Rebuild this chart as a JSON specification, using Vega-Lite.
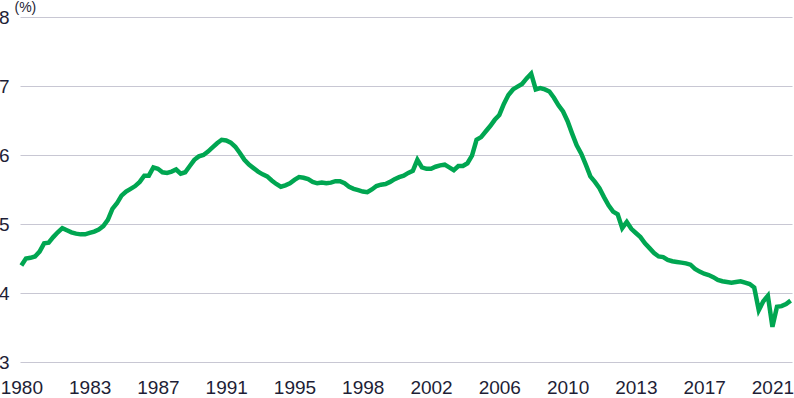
{
  "$schema": "https://vega.github.io/schema/vega-lite/v6.json",
  "width": 772,
  "height": 345,
  "autosize": {"type": "none"},
  "padding": {"left": 20, "top": 17, "right": 2, "bottom": 36},
  "config": {"view": {"stroke": null}, "font": "Liberation Sans"},
  "data": {"values": [
    {"quarter":"1980Q1","value":4.40},{"quarter":"1980Q2","value":4.50},{"quarter":"1980Q3","value":4.51},{"quarter":"1980Q4","value":4.53},
    {"quarter":"1981Q1","value":4.60},{"quarter":"1981Q2","value":4.72},{"quarter":"1981Q3","value":4.73},{"quarter":"1981Q4","value":4.81},
    {"quarter":"1982Q1","value":4.88},{"quarter":"1982Q2","value":4.94},{"quarter":"1982Q3","value":4.91},{"quarter":"1982Q4","value":4.88},
    {"quarter":"1983Q1","value":4.86},{"quarter":"1983Q2","value":4.85},{"quarter":"1983Q3","value":4.85},{"quarter":"1983Q4","value":4.87},
    {"quarter":"1984Q1","value":4.89},{"quarter":"1984Q2","value":4.92},{"quarter":"1984Q3","value":4.97},{"quarter":"1984Q4","value":5.06},
    {"quarter":"1985Q1","value":5.22},{"quarter":"1985Q2","value":5.30},{"quarter":"1985Q3","value":5.41},{"quarter":"1985Q4","value":5.47},
    {"quarter":"1986Q1","value":5.51},{"quarter":"1986Q2","value":5.55},{"quarter":"1986Q3","value":5.61},{"quarter":"1986Q4","value":5.70},
    {"quarter":"1987Q1","value":5.70},{"quarter":"1987Q2","value":5.82},{"quarter":"1987Q3","value":5.80},{"quarter":"1987Q4","value":5.75},
    {"quarter":"1988Q1","value":5.74},{"quarter":"1988Q2","value":5.76},{"quarter":"1988Q3","value":5.79},{"quarter":"1988Q4","value":5.73},
    {"quarter":"1989Q1","value":5.75},{"quarter":"1989Q2","value":5.84},{"quarter":"1989Q3","value":5.93},{"quarter":"1989Q4","value":5.98},
    {"quarter":"1990Q1","value":6.00},{"quarter":"1990Q2","value":6.05},{"quarter":"1990Q3","value":6.11},{"quarter":"1990Q4","value":6.17},
    {"quarter":"1991Q1","value":6.22},{"quarter":"1991Q2","value":6.21},{"quarter":"1991Q3","value":6.18},{"quarter":"1991Q4","value":6.12},
    {"quarter":"1992Q1","value":6.03},{"quarter":"1992Q2","value":5.93},{"quarter":"1992Q3","value":5.86},{"quarter":"1992Q4","value":5.81},
    {"quarter":"1993Q1","value":5.76},{"quarter":"1993Q2","value":5.72},{"quarter":"1993Q3","value":5.69},{"quarter":"1993Q4","value":5.63},
    {"quarter":"1994Q1","value":5.58},{"quarter":"1994Q2","value":5.54},{"quarter":"1994Q3","value":5.56},{"quarter":"1994Q4","value":5.59},
    {"quarter":"1995Q1","value":5.64},{"quarter":"1995Q2","value":5.68},{"quarter":"1995Q3","value":5.67},{"quarter":"1995Q4","value":5.65},
    {"quarter":"1996Q1","value":5.61},{"quarter":"1996Q2","value":5.59},{"quarter":"1996Q3","value":5.60},{"quarter":"1996Q4","value":5.59},
    {"quarter":"1997Q1","value":5.60},{"quarter":"1997Q2","value":5.62},{"quarter":"1997Q3","value":5.62},{"quarter":"1997Q4","value":5.59},
    {"quarter":"1998Q1","value":5.54},{"quarter":"1998Q2","value":5.51},{"quarter":"1998Q3","value":5.49},{"quarter":"1998Q4","value":5.47},
    {"quarter":"1999Q1","value":5.46},{"quarter":"1999Q2","value":5.50},{"quarter":"1999Q3","value":5.55},{"quarter":"1999Q4","value":5.57},
    {"quarter":"2000Q1","value":5.58},{"quarter":"2000Q2","value":5.61},{"quarter":"2000Q3","value":5.65},{"quarter":"2000Q4","value":5.68},
    {"quarter":"2001Q1","value":5.70},{"quarter":"2001Q2","value":5.74},{"quarter":"2001Q3","value":5.77},{"quarter":"2001Q4","value":5.93},
    {"quarter":"2002Q1","value":5.82},{"quarter":"2002Q2","value":5.80},{"quarter":"2002Q3","value":5.80},{"quarter":"2002Q4","value":5.83},
    {"quarter":"2003Q1","value":5.85},{"quarter":"2003Q2","value":5.86},{"quarter":"2003Q3","value":5.82},{"quarter":"2003Q4","value":5.78},
    {"quarter":"2004Q1","value":5.84},{"quarter":"2004Q2","value":5.84},{"quarter":"2004Q3","value":5.88},{"quarter":"2004Q4","value":5.99},
    {"quarter":"2005Q1","value":6.22},{"quarter":"2005Q2","value":6.26},{"quarter":"2005Q3","value":6.34},{"quarter":"2005Q4","value":6.42},
    {"quarter":"2006Q1","value":6.51},{"quarter":"2006Q2","value":6.58},{"quarter":"2006Q3","value":6.74},{"quarter":"2006Q4","value":6.87},
    {"quarter":"2007Q1","value":6.95},{"quarter":"2007Q2","value":6.99},{"quarter":"2007Q3","value":7.03},{"quarter":"2007Q4","value":7.11},
    {"quarter":"2008Q1","value":7.18},{"quarter":"2008Q2","value":6.95},{"quarter":"2008Q3","value":6.97},{"quarter":"2008Q4","value":6.95},
    {"quarter":"2009Q1","value":6.92},{"quarter":"2009Q2","value":6.83},{"quarter":"2009Q3","value":6.72},{"quarter":"2009Q4","value":6.63},
    {"quarter":"2010Q1","value":6.49},{"quarter":"2010Q2","value":6.31},{"quarter":"2010Q3","value":6.14},{"quarter":"2010Q4","value":6.02},
    {"quarter":"2011Q1","value":5.86},{"quarter":"2011Q2","value":5.69},{"quarter":"2011Q3","value":5.61},{"quarter":"2011Q4","value":5.52},
    {"quarter":"2012Q1","value":5.39},{"quarter":"2012Q2","value":5.27},{"quarter":"2012Q3","value":5.18},{"quarter":"2012Q4","value":5.14},
    {"quarter":"2013Q1","value":4.94},{"quarter":"2013Q2","value":5.03},{"quarter":"2013Q3","value":4.93},{"quarter":"2013Q4","value":4.87},
    {"quarter":"2014Q1","value":4.81},{"quarter":"2014Q2","value":4.72},{"quarter":"2014Q3","value":4.65},{"quarter":"2014Q4","value":4.58},
    {"quarter":"2015Q1","value":4.53},{"quarter":"2015Q2","value":4.52},{"quarter":"2015Q3","value":4.48},{"quarter":"2015Q4","value":4.46},
    {"quarter":"2016Q1","value":4.45},{"quarter":"2016Q2","value":4.44},{"quarter":"2016Q3","value":4.43},{"quarter":"2016Q4","value":4.41},
    {"quarter":"2017Q1","value":4.35},{"quarter":"2017Q2","value":4.31},{"quarter":"2017Q3","value":4.28},{"quarter":"2017Q4","value":4.26},
    {"quarter":"2018Q1","value":4.23},{"quarter":"2018Q2","value":4.19},{"quarter":"2018Q3","value":4.17},{"quarter":"2018Q4","value":4.16},
    {"quarter":"2019Q1","value":4.15},{"quarter":"2019Q2","value":4.16},{"quarter":"2019Q3","value":4.17},{"quarter":"2019Q4","value":4.15},
    {"quarter":"2020Q1","value":4.13},{"quarter":"2020Q2","value":4.08},{"quarter":"2020Q3","value":3.75},{"quarter":"2020Q4","value":3.88},
    {"quarter":"2021Q1","value":3.96},{"quarter":"2021Q2","value":3.51},{"quarter":"2021Q3","value":3.80},{"quarter":"2021Q4","value":3.81},
    {"quarter":"2022Q1","value":3.84},{"quarter":"2022Q2","value":3.89}
  ]},
  "mark": {"type": "line", "color": "#00A651", "strokeWidth": 4.5},
  "encoding": {
    "x": {
      "field": "quarter",
      "type": "ordinal",
      "scale": {"type": "point", "padding": 0.3},
      "axis": {
        "values": ["1980Q1","1983Q4","1987Q3","1991Q2","1995Q1","1998Q4","2002Q3","2006Q2","2010Q1","2013Q4","2017Q3","2021Q2"],
        "labelExpr": "substring(datum.label, 0, 4)",
        "title": null,
        "ticks": false,
        "domain": false,
        "grid": false,
        "labelAngle": 0,
        "labelFontSize": 19,
        "labelColor": "#1e1e36",
        "labelBaseline": "alphabetic",
        "labelPadding": 31,
        "labelOverlap": false,
        "labelBound": false,
        "labelFlush": false
      }
    },
    "y": {
      "field": "value",
      "type": "quantitative",
      "scale": {"domain": [3, 8], "nice": false, "zero": false},
      "axis": {
        "values": [3, 4, 5, 6, 7, 8],
        "title": "(%)",
        "titleAngle": 0,
        "titleX": -6,
        "titleY": -6,
        "titleAlign": "left",
        "titleBaseline": "alphabetic",
        "titleFontSize": 14,
        "titleFontWeight": "normal",
        "titleColor": "#1e1e36",
        "ticks": false,
        "domain": false,
        "grid": true,
        "gridColor": "#c8c7d3",
        "gridWidth": 1,
        "labelFontSize": 19,
        "labelColor": "#1e1e36",
        "labelAlign": "right",
        "labelPadding": 11
      }
    }
  }
}
